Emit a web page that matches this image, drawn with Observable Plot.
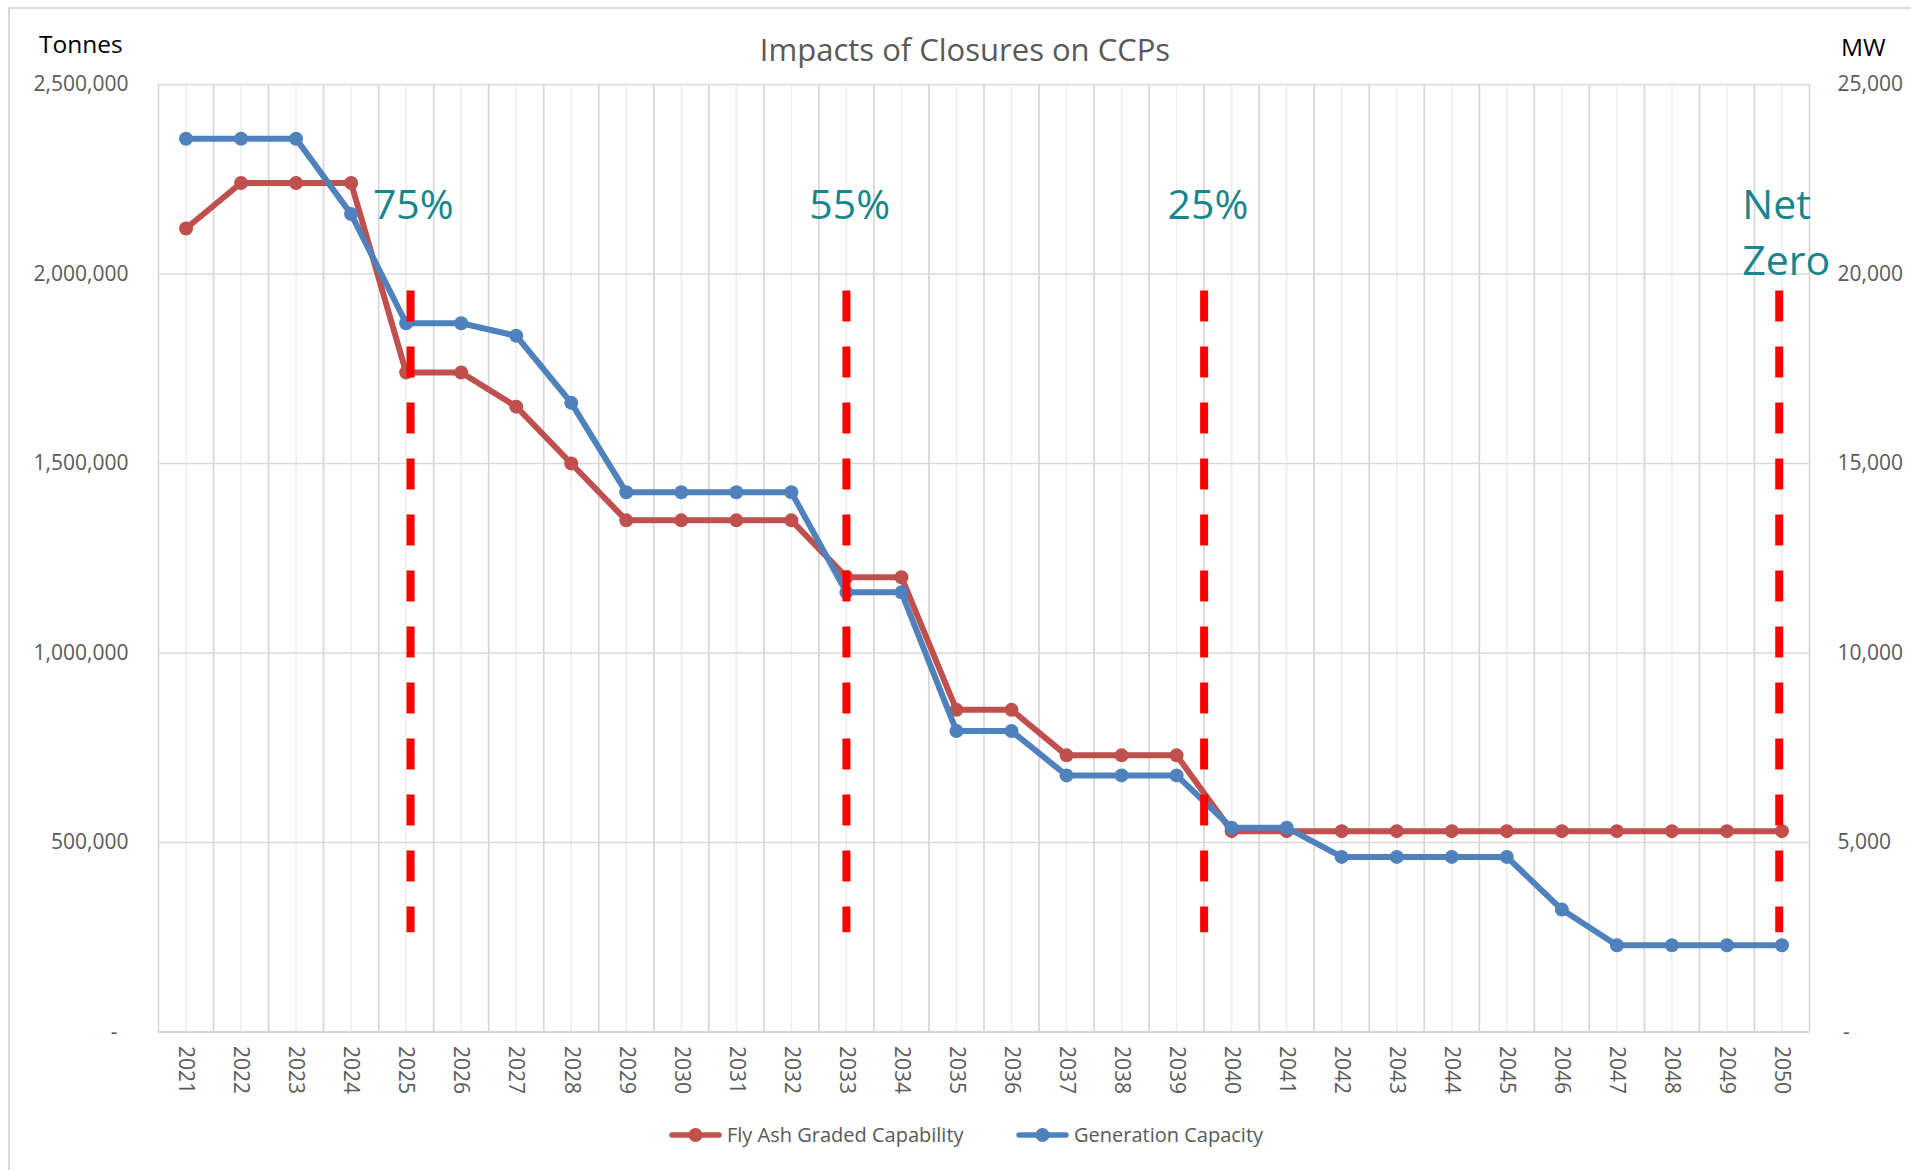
<!DOCTYPE html>
<html>
<head>
<meta charset="utf-8">
<script src="https://cdn.jsdelivr.net/npm/d3@7"></script>
<script src="https://cdn.jsdelivr.net/npm/@observablehq/plot@0.6"></script>
<style>
  html, body { margin: 0; padding: 0; background: #ffffff; }
  body { font-family: "Open Sans", sans-serif; }
  #chart { position: relative; width: 1911px; height: 1170px; overflow: hidden; background: #fff; }
  #frame { position: absolute; left: 8px; top: 7px; right: -10px; bottom: -10px; border-top: 2px solid #d9d9d9; border-left: 2px solid #d9d9d9; }
  #title { position: absolute; left: 665px; width: 600px; top: 34px; text-align: center; font-size: 31px; line-height: 1; color: #595959; }
  .axlab { position: absolute; font-size: 24.5px; line-height: 1; color: #000; }
  #plot { position: absolute; left: 0; top: 0; }
  .legitem { position: absolute; top: 1124px; display: flex; align-items: center; height: 22px; font-size: 20px; line-height: 1; color: #595959; }
  .legitem svg { display: block; margin-right: 5px; }
</style>
</head>
<body>
<div id="chart">
  <div id="frame"></div>
  <div id="title">Impacts of Closures on CCPs</div>
  <div class="axlab" id="ylabL" style="left:39px; top:32px;">Tonnes</div>
  <div class="axlab" id="ylabR" style="left:1841px; top:35px;">MW</div>
  <div id="plot"></div>
  <div id="legend"></div>
</div>
<script>
// ---------- data ----------
const years = [2021, 2022, 2023, 2024, 2025, 2026, 2027, 2028, 2029, 2030,
               2031, 2032, 2033, 2034, 2035, 2036, 2037, 2038, 2039, 2040,
               2041, 2042, 2043, 2044, 2045, 2046, 2047, 2048, 2049, 2050];

// Fly Ash Graded Capability (tonnes, left axis)
const flyAshTonnes = [2120000, 2240000, 2240000, 2240000, 1740000, 1740000, 1650000, 1500000, 1350000, 1350000,
                      1350000, 1350000, 1200000, 1200000, 850000, 850000, 730000, 730000, 730000, 530000,
                      530000, 530000, 530000, 530000, 530000, 530000, 530000, 530000, 530000, 530000];

// Generation Capacity (MW, right axis)
const generationMW = [23570, 23570, 23570, 21580, 18700, 18700, 18370, 16600, 14240, 14240,
                      14240, 14240, 11600, 11600, 7940, 7940, 6770, 6770, 6770, 5390,
                      5390, 4620, 4620, 4620, 4620, 3230, 2290, 2290, 2290, 2290];

const seriesNames = ["Fly Ash Graded Capability", "Generation Capacity"];
const seriesColors = ["#c0504d", "#4f81bd"];

// axis tick values
const leftTicks = [0, 500000, 1000000, 1500000, 2000000, 2500000];
const rightTicks = [0, 5000, 10000, 15000, 20000, 25000];

// closure milestones (dashed markers + labels)
const milestoneYears = [2025.08, 2033, 2039.5, 2049.95];
const milestoneLabels = ["75%", "55%", "25%", "Net\nZero"];
const milestoneLabelX = [2025.13, 2033.06, 2039.57, 2049.28];
const milestoneTop = 1955000;     // tonnes scale
const milestoneBottom = 262000;   // tonnes scale
const milestoneLabelY = 2222000;  // tonnes scale

// ---------- derived ----------
const ratio = leftTicks[leftTicks.length - 1] / rightTicks[rightTicks.length - 1];
const boundaries = years.map(y => y - 0.5).concat([years[years.length - 1] + 0.5]);
const fly = years.map((y, i) => ({year: y, v: flyAshTonnes[i]}));
const gen = years.map((y, i) => ({year: y, v: generationMW[i] * ratio}));
const labels = milestoneLabels.map((t, i) => ({x: milestoneLabelX[i], t}));
const fmt = d3.format(",");

const plot = Plot.plot({
  width: 1911,
  height: 1100,
  marginTop: 84,
  marginLeft: 158,
  marginRight: 102,
  marginBottom: 68.5,
  x: {domain: [boundaries[0], boundaries[boundaries.length - 1]]},
  y: {domain: [leftTicks[0], leftTicks[leftTicks.length - 1]]},
  style: {fontFamily: '"Open Sans", sans-serif', fontSize: "21px", color: "#595959", background: "transparent", overflow: "visible"},
  marks: [
    Plot.ruleX(years, {stroke: "#ececec", strokeWidth: 1.5}),
    Plot.ruleX(boundaries, {stroke: "#d6d6d6", strokeWidth: 1.7}),
    Plot.ruleY(leftTicks.slice(1), {stroke: "#d9d9d9", strokeWidth: 1.7}),
    Plot.ruleY([0], {stroke: "#d4d4d4", strokeWidth: 2}),
    Plot.axisY({anchor: "left", ticks: leftTicks, tickSize: 0, tickPadding: 30, fontSize: 21, label: null,
      tickFormat: d => d === 0 ? "-\u00a0\u00a0" : fmt(d)}),
    Plot.axisY({anchor: "right", ticks: leftTicks, tickSize: 0, tickPadding: 28, fontSize: 21, label: null,
      tickFormat: d => d === 0 ? "\u00a0-" : fmt(d / ratio)}),
    Plot.axisX({ticks: years, tickSize: 0, tickPadding: 14, tickRotate: 90, fontSize: 21, label: null,
      tickFormat: d => String(d)}),
    Plot.line(fly, {x: "year", y: "v", stroke: seriesColors[0], strokeWidth: 6}),
    Plot.dot(fly, {x: "year", y: "v", r: 7, fill: seriesColors[0]}),
    Plot.line(gen, {x: "year", y: "v", stroke: seriesColors[1], strokeWidth: 6}),
    Plot.dot(gen, {x: "year", y: "v", r: 7, fill: seriesColors[1]}),
    Plot.ruleX(milestoneYears, {y1: milestoneTop, y2: milestoneBottom, stroke: "#ff0000", strokeWidth: 8, strokeDasharray: "31,25", strokeLinecap: "butt"}),
    Plot.text(labels.slice(0, 3), {x: "x", y: milestoneLabelY, text: "t", textAnchor: "middle", lineAnchor: "top", fontSize: 41, fill: "#17868c"}),
    Plot.text(labels.slice(3), {x: "x", y: milestoneLabelY, text: "t", textAnchor: "start", lineAnchor: "top", lineHeight: 1.36, dy: -10.5, fontSize: 41, fill: "#17868c"})
  ]
});
document.getElementById("plot").appendChild(plot);

// legend
const legendLeft = [669, 1016];
const legend = document.getElementById("legend");
seriesNames.forEach((name, i) => {
  const item = document.createElement("div");
  item.className = "legitem";
  item.style.left = legendLeft[i] + "px";
  item.innerHTML = `<svg width="53" height="16"><line x1="3" y1="8" x2="50" y2="8" stroke="${seriesColors[i]}" stroke-width="5.5" stroke-linecap="round"/><circle cx="26.5" cy="8" r="7" fill="${seriesColors[i]}"/></svg><span>${name}</span>`;
  legend.appendChild(item);
});
</script>
</body>
</html>
